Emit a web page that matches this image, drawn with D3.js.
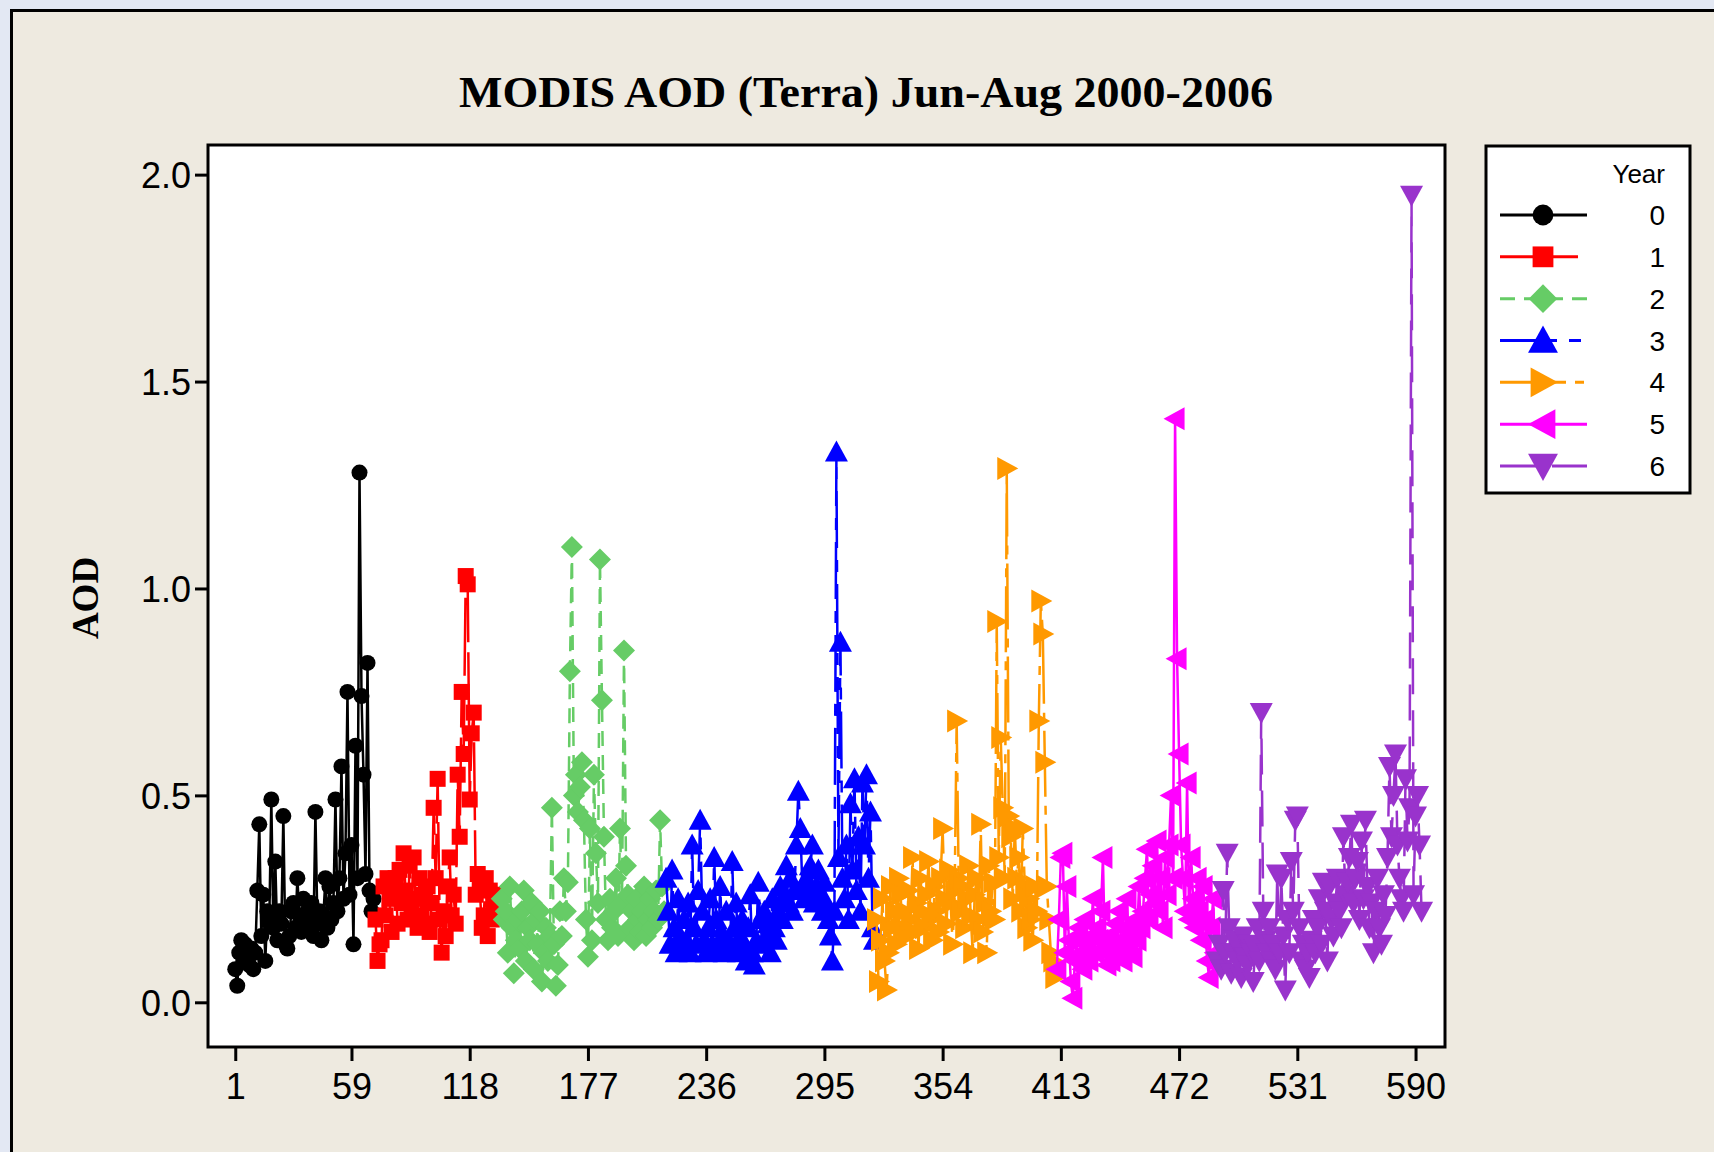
<!DOCTYPE html>
<html>
<head>
<meta charset="utf-8">
<script src="https://cdn.jsdelivr.net/npm/d3@7"></script>
<style>
  html, body { margin: 0; padding: 0; background: #e3e8f3; }
  svg { display: block; }
</style>
</head>
<body>
<script>
// observation index where each year's run starts
const years = ["0", "1", "2", "3", "4", "5", "6"];
const startIndex = [1, 71, 134, 216, 321, 411, 491];

const year0 = [0.08, 0.04, 0.12, 0.15, 0.10, 0.14, 0.11, 0.09, 0.13, 0.08,
  0.12, 0.27, 0.43, 0.16, 0.26, 0.10, 0.22, 0.20, 0.49, 0.18,
  0.34, 0.15, 0.22, 0.19, 0.45, 0.14, 0.13, 0.16, 0.22, 0.24,
  0.18, 0.30, 0.21, 0.17, 0.25, 0.20, 0.22, 0.18, 0.24, 0.16,
  0.46, 0.19, 0.22, 0.15, 0.21, 0.30, 0.18, 0.28, 0.20, 0.24,
  0.49, 0.22, 0.30, 0.57, 0.25, 0.36, 0.75, 0.26, 0.38, 0.14,
  0.62, 0.30, 1.28, 0.74, 0.55, 0.31, 0.82, 0.27, 0.22, 0.25];
const year1 = [0.20, 0.10, 0.14, 0.15, 0.28, 0.21, 0.30, 0.25, 0.17, 0.27,
  0.30, 0.19, 0.32, 0.24, 0.36, 0.27, 0.20, 0.33, 0.22, 0.35,
  0.25, 0.18, 0.30, 0.21, 0.26, 0.19, 0.28, 0.17, 0.24, 0.47,
  0.30, 0.54, 0.20, 0.12, 0.22, 0.16, 0.28, 0.35, 0.21, 0.26,
  0.19, 0.55, 0.40, 0.75, 0.60, 1.03, 1.01, 0.49, 0.65, 0.70,
  0.26, 0.31, 0.28, 0.18, 0.21, 0.30, 0.16, 0.27, 0.20, 0.25, 0.22, 0.26, 0.24];
const year2 = [0.25, 0.20, 0.22, 0.12, 0.28, 0.18, 0.07, 0.15, 0.20, 0.13,
  0.22, 0.27, 0.10, 0.18, 0.15, 0.24, 0.08, 0.20, 0.14, 0.22,
  0.05, 0.12, 0.18, 0.10, 0.16, 0.47, 0.14, 0.04, 0.09, 0.22,
  0.16, 0.30, 0.22, 0.29, 0.80, 1.10, 0.50, 0.55, 0.46, 0.52,
  0.58, 0.44, 0.20, 0.11, 0.42, 0.15, 0.55, 0.36, 0.24, 1.07,
  0.73, 0.40, 0.20, 0.15, 0.25, 0.18, 0.22, 0.30, 0.16, 0.42,
  0.24, 0.85, 0.33, 0.26, 0.18, 0.22, 0.15, 0.25, 0.20, 0.17,
  0.22, 0.28, 0.16, 0.20, 0.25, 0.18, 0.22, 0.27, 0.20, 0.44, 0.28, 0.22];
const year3 = [0.30, 0.22, 0.14, 0.32, 0.18, 0.12, 0.25, 0.16, 0.13, 0.20,
  0.15, 0.24, 0.12, 0.38, 0.18, 0.14, 0.27, 0.44, 0.22, 0.15,
  0.12, 0.18, 0.25, 0.14, 0.35, 0.20, 0.13, 0.28, 0.16, 0.12,
  0.22, 0.15, 0.13, 0.34, 0.18, 0.24, 0.12, 0.16, 0.20, 0.14,
  0.10, 0.18, 0.26, 0.12, 0.09, 0.15, 0.29, 0.20, 0.14, 0.22,
  0.16, 0.19, 0.12, 0.25, 0.18, 0.15, 0.22, 0.28, 0.20, 0.26,
  0.33, 0.24, 0.30, 0.22, 0.27, 0.38, 0.51, 0.42, 0.28, 0.25,
  0.30, 0.26, 0.33, 0.38, 0.24, 0.28, 0.32, 0.26, 0.22, 0.29,
  0.24, 0.20, 0.16, 0.10, 0.22, 1.33, 0.35, 0.87, 0.30, 0.25,
  0.38, 0.20, 0.48, 0.32, 0.54, 0.27, 0.40, 0.22, 0.53, 0.38, 0.55, 0.30, 0.46, 0.18, 0.15];
const year4 = [0.20, 0.05, 0.15, 0.25, 0.10, 0.03, 0.12, 0.28, 0.18, 0.22,
  0.14, 0.30, 0.26, 0.18, 0.22, 0.16, 0.27, 0.20, 0.35, 0.17,
  0.24, 0.13, 0.30, 0.22, 0.18, 0.26, 0.34, 0.20, 0.15, 0.28,
  0.22, 0.17, 0.30, 0.42, 0.25, 0.19, 0.32, 0.24, 0.14, 0.27,
  0.68, 0.30, 0.22, 0.28, 0.18, 0.25, 0.33, 0.21, 0.12, 0.26,
  0.30, 0.20, 0.43, 0.17, 0.24, 0.12, 0.33, 0.22, 0.29, 0.20,
  0.92, 0.35, 0.64, 0.47, 0.30, 1.29, 0.45, 0.40, 0.25, 0.42,
  0.30, 0.35, 0.22, 0.42, 0.28, 0.18, 0.25, 0.20, 0.15, 0.28,
  0.22, 0.68, 0.97, 0.89, 0.58, 0.28, 0.20, 0.12, 0.10, 0.06];
const year5 = [0.08, 0.20, 0.35, 0.36, 0.12, 0.28, 0.15, 0.05, 0.01, 0.10,
  0.15, 0.18, 0.12, 0.08, 0.20, 0.14, 0.10, 0.16, 0.25, 0.12,
  0.18, 0.15, 0.22, 0.35, 0.12, 0.09, 0.16, 0.10, 0.14, 0.19,
  0.12, 0.22, 0.15, 0.10, 0.18, 0.25, 0.13, 0.16, 0.11, 0.20,
  0.15, 0.28, 0.18, 0.22, 0.30, 0.37, 0.20, 0.26, 0.33, 0.24,
  0.39, 0.22, 0.30, 0.18, 0.35, 0.26, 0.38, 0.50, 0.30, 1.41,
  0.83, 0.60, 0.38, 0.30, 0.22, 0.53, 0.20, 0.35, 0.25, 0.18,
  0.30, 0.22, 0.15, 0.28, 0.20, 0.10, 0.06, 0.18, 0.25, 0.12];
const year6 = [0.10, 0.14, 0.08, 0.27, 0.12, 0.36, 0.18, 0.07, 0.12, 0.15,
  0.10, 0.13, 0.06, 0.16, 0.11, 0.09, 0.14, 0.12, 0.05, 0.13,
  0.18, 0.10, 0.70, 0.22, 0.15, 0.12, 0.18, 0.10, 0.14, 0.08,
  0.31, 0.12, 0.30, 0.16, 0.03, 0.20, 0.12, 0.34, 0.22, 0.44,
  0.45, 0.18, 0.10, 0.14, 0.08, 0.12, 0.06, 0.15, 0.20, 0.12,
  0.18, 0.25, 0.14, 0.29, 0.22, 0.10, 0.28, 0.20, 0.16, 0.24,
  0.30, 0.22, 0.18, 0.40, 0.26, 0.29, 0.35, 0.43, 0.24, 0.30,
  0.34, 0.20, 0.39, 0.25, 0.44, 0.28, 0.18, 0.24, 0.12, 0.22,
  0.30, 0.18, 0.14, 0.26, 0.21, 0.35, 0.57, 0.40, 0.50, 0.60,
  0.38, 0.30, 0.25, 0.22, 0.54, 0.39, 0.47, 1.95, 0.26, 0.45, 0.50, 0.38, 0.22];

const seriesValues = [year0, year1, year2, year3, year4, year5, year6];
const xTicks = [1, 59, 118, 177, 236, 295, 354, 413, 472, 531, 590];
const yTicks = [0, 0.5, 1.0, 1.5, 2.0];

// look of each year
const colors = ["#000000", "#ff0000", "#66cc66", "#0000ff", "#ff9900", "#ff00ff", "#9933cc"];
const dashes = [null, "78,10", "15,9", "57,12,12,12", "66,9,9,9", null, "36,16"];
const shapes = ["circle", "square", "diamond", "up", "right", "left", "down"];

function markerPath(shape, k) {
  const r = 8 * k, s = 8 * k, d = 11 * k, t = 11.5 * k, b = 9.5 * k;
  switch (shape) {
    case "circle": return `M${-r},0A${r},${r} 0 1,0 ${r},0A${r},${r} 0 1,0 ${-r},0Z`;
    case "square": return `M${-s},${-s}H${s}V${s}H${-s}Z`;
    case "diamond": return `M0,${-d}L${d},0L0,${d}L${-d},0Z`;
    case "up": return `M0,${-t}L${t},${b}L${-t},${b}Z`;
    case "right": return `M${t},0L${-b},${-t}L${-b},${t}Z`;
    case "left": return `M${-t},0L${b},${-t}L${b},${t}Z`;
    default: return `M0,${t}L${t},${-b}L${-t},${-b}Z`;
  }
}

const W = 1714, H = 1152;
const svg = d3.select("body").append("svg").attr("width", W).attr("height", H);

// window frame
svg.append("rect").attr("x", 11).attr("y", 10).attr("width", W - 11).attr("height", H - 10)
  .attr("fill", "#eeeae0");
svg.append("path").attr("d", `M11.5,${H}V10.5H${W}`).attr("fill", "none")
  .attr("stroke", "#000").attr("stroke-width", 3);

const plot = { left: 208, right: 1445, top: 145, bottom: 1047 };

const x = d3.scaleLinear().domain([-12.6, 604.7]).range([plot.left, plot.right]);
const y = d3.scaleLinear().domain([-0.108, 2.0716]).range([plot.bottom, plot.top]);

svg.append("rect").attr("x", plot.left).attr("y", plot.top)
  .attr("width", plot.right - plot.left).attr("height", plot.bottom - plot.top)
  .attr("fill", "#fff");

const tickFont = "'Liberation Sans', Arial, sans-serif";

const yAxis = svg.append("g").attr("transform", `translate(${plot.left},0)`)
  .call(d3.axisLeft(y).tickValues(yTicks).tickFormat(d3.format(".1f")).tickSize(13).tickPadding(4));
const xAxis = svg.append("g").attr("transform", `translate(0,${plot.bottom})`)
  .call(d3.axisBottom(x).tickValues(xTicks).tickFormat(d3.format("d")).tickSize(14).tickPadding(12));
[xAxis, yAxis].forEach(g => {
  g.select(".domain").remove();
  g.selectAll(".tick line").attr("stroke", "#000").attr("stroke-width", 3);
  g.selectAll(".tick text").attr("fill", "#000").style("font-family", tickFont).style("font-size", "36px");
});
yAxis.selectAll(".tick text").attr("dy", "0.36em");

// series
svg.append("clipPath").attr("id", "plotclip").append("rect")
  .attr("x", plot.left).attr("y", plot.top)
  .attr("width", plot.right - plot.left).attr("height", plot.bottom - plot.top);
const body = svg.append("g").attr("clip-path", "url(#plotclip)");

const line = d3.line().x(d => x(d.i)).y(d => y(d.v));

seriesValues.forEach((vals, s) => {
  const pts = vals.map((v, j) => ({ i: startIndex[s] + j, v: v }));
  const g = body.append("g");
  g.append("path").datum(pts).attr("d", line)
    .attr("fill", "none").attr("stroke", colors[s]).attr("stroke-width", 2.5)
    .attr("stroke-dasharray", dashes[s]);
  g.selectAll("path.mk").data(pts).enter().append("path").attr("class", "mk")
    .attr("transform", d => `translate(${x(d.i)},${y(d.v)})`)
    .attr("d", markerPath(shapes[s], 1))
    .attr("fill", colors[s]);
});

// frame on top
svg.append("rect").attr("x", plot.left).attr("y", plot.top)
  .attr("width", plot.right - plot.left).attr("height", plot.bottom - plot.top)
  .attr("fill", "none").attr("stroke", "#000").attr("stroke-width", 3);

// title and axis label
svg.append("text").attr("x", 866).attr("y", 107).attr("text-anchor", "middle")
  .style("font-family", "'Liberation Serif', 'Times New Roman', serif").style("font-weight", "bold")
  .style("font-size", "44px").attr("textLength", 814).attr("lengthAdjust", "spacingAndGlyphs")
  .text("MODIS AOD (Terra) Jun-Aug 2000-2006");

svg.append("text").attr("transform", "translate(98,598) rotate(-90)").attr("text-anchor", "middle")
  .style("font-family", "'Liberation Serif', 'Times New Roman', serif").style("font-weight", "bold")
  .style("font-size", "37px").text("AOD");

// legend
const lg = { left: 1486, top: 146, width: 204, height: 347 };
svg.append("rect").attr("x", lg.left).attr("y", lg.top).attr("width", lg.width).attr("height", lg.height)
  .attr("fill", "#fff").attr("stroke", "#000").attr("stroke-width", 3);
svg.append("text").attr("x", 1665).attr("y", 183).attr("text-anchor", "end")
  .style("font-family", tickFont).style("font-size", "26px").text("Year");

const rowY = d3.scaleLinear().domain([0, 6]).range([215, 466]);
years.forEach((yr, s) => {
  const ry = rowY(s);
  svg.append("line").attr("x1", 1500).attr("x2", 1587).attr("y1", ry).attr("y2", ry)
    .attr("stroke", colors[s]).attr("stroke-width", 3).attr("stroke-dasharray", dashes[s]);
  svg.append("path").attr("transform", `translate(1543,${ry})`)
    .attr("d", markerPath(shapes[s], 1.3)).attr("fill", colors[s]);
  svg.append("text").attr("x", 1665).attr("y", ry + 10).attr("text-anchor", "end")
    .style("font-family", tickFont).style("font-size", "28px").text(yr);
});
</script>
</body>
</html>
